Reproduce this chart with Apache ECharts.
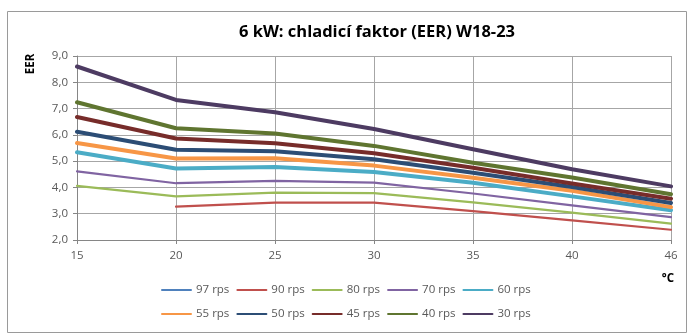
<!DOCTYPE html>
<html>
<head>
<meta charset="utf-8">
<script src="https://cdn.jsdelivr.net/npm/echarts@6/dist/echarts.min.js"></script>
<style>
  html, body { margin: 0; padding: 0; background: #fff; }
  #chart { width: 688px; height: 336px; }
</style>
</head>
<body>
<div id="chart"></div>
<script>
// Outdoor temperature (°C) categories
const temps = ['15', '20', '25', '30', '35', '40', '46'];

// EER per compressor speed
const rps97 = [null, null, null, null, null, null, null];
const rps90 = [null, 3.27, 3.42, 3.42, 3.10, 2.75, 2.39];
const rps80 = [4.06, 3.66, 3.80, 3.78, 3.43, 3.04, 2.62];
const rps70 = [4.61, 4.16, 4.25, 4.18, 3.77, 3.32, 2.87];
const rps60 = [5.34, 4.72, 4.78, 4.59, 4.18, 3.66, 3.13];
const rps55 = [5.69, 5.10, 5.11, 4.83, 4.37, 3.87, 3.25];
const rps50 = [6.12, 5.43, 5.38, 5.07, 4.56, 4.02, 3.41];
const rps45 = [6.68, 5.86, 5.68, 5.30, 4.75, 4.15, 3.57];
const rps40 = [7.24, 6.25, 6.05, 5.58, 4.94, 4.38, 3.74];
const rps30 = [8.60, 7.33, 6.86, 6.22, 5.45, 4.69, 4.04];

const seriesNames = ['97 rps', '90 rps', '80 rps', '70 rps', '60 rps',
                     '55 rps', '50 rps', '45 rps', '40 rps', '30 rps'];
const seriesData = [rps97, rps90, rps80, rps70, rps60, rps55, rps50, rps45, rps40, rps30];
const colors = ['#4F81BD', '#C0504D', '#9BBB59', '#8064A2', '#4BACC6',
                '#F79646', '#2C4D75', '#772C2A', '#5F7530', '#4D3B62'];
const widths = [2.2, 2.2, 2.2, 2.2, 4, 4, 4, 4, 4, 4];

const FONT = 'Open Sans';
const chart = echarts.init(document.getElementById('chart'), null, { renderer: 'canvas' });

// Legend keys: the marker square is kept thinner than the line so only the line shows
const legendCommon = {
  orient: 'horizontal',
  left: 161,
  itemWidth: 29,
  itemHeight: 2,
  itemGap: 7,
  padding: 0,
  textStyle: { fontFamily: FONT, fontSize: 11.5, color: '#595959' }
};

chart.setOption({
  animation: false,
  backgroundColor: '#fff',
  color: colors,
  title: {
    text: '6 kW: chladicí faktor (EER) W18-23',
    left: 377,
    top: 24,
    textAlign: 'center',
    padding: 0,
    textStyle: { fontFamily: FONT, fontSize: 16.5, fontWeight: 'bold', color: '#000' }
  },
  legend: [
    Object.assign({}, legendCommon, { top: 284, data: seriesNames.slice(0, 5) }),
    Object.assign({}, legendCommon, { top: 308, data: seriesNames.slice(5) })
  ],
  grid: { left: 77, top: 56, right: 17, bottom: 96, containLabel: false },
  xAxis: {
    type: 'category',
    data: temps,
    boundaryGap: false,
    axisLine: { lineStyle: { color: '#868686', width: 1 } },
    axisTick: { show: true, length: 4, interval: 0, lineStyle: { color: '#868686' } },
    axisLabel: { margin: 10, interval: 0, fontFamily: FONT, fontSize: 11.5, color: '#595959' },
    splitLine: { show: true, interval: 0, lineStyle: { color: '#A6A6A6', width: 1 } }
  },
  yAxis: {
    type: 'value',
    min: 2,
    max: 9,
    interval: 1,
    axisLine: { show: true, lineStyle: { color: '#868686', width: 1 } },
    axisTick: { show: true, length: 4, lineStyle: { color: '#868686' } },
    axisLabel: {
      margin: 9,
      fontFamily: FONT,
      fontSize: 11.5,
      color: '#595959',
      formatter: v => v.toFixed(1).replace('.', ',')
    },
    splitLine: { show: true, lineStyle: { color: '#A6A6A6', width: 1 } }
  },
  graphic: [
    {
      type: 'rect',
      shape: { x: 7.5, y: 11.5, width: 679, height: 321 },
      style: { fill: 'none', stroke: '#9A9A9A', lineWidth: 1 },
      silent: true,
      z: -1
    },
    {
      type: 'text',
      x: 31,
      y: 64,
      rotation: Math.PI / 2,
      style: {
        text: 'EER',
        fontFamily: FONT,
        fontSize: 11.5,
        fontWeight: 'bold',
        fill: '#000',
        align: 'center',
        verticalAlign: 'middle'
      }
    },
    {
      type: 'text',
      x: 668,
      y: 279,
      style: {
        text: '°C',
        fontFamily: FONT,
        fontSize: 11.5,
        fontWeight: 'bold',
        fill: '#000',
        align: 'center',
        verticalAlign: 'middle'
      }
    }
  ],
  series: seriesNames.map((name, i) => ({
    name: name,
    type: 'line',
    data: seriesData[i],
    symbol: 'rect',
    showSymbol: false,
    connectNulls: false,
    lineStyle: { width: widths[i], color: colors[i], cap: 'round', join: 'round' },
    itemStyle: { color: colors[i] },
    emphasis: { disabled: true }
  }))
});
</script>
</body>
</html>
